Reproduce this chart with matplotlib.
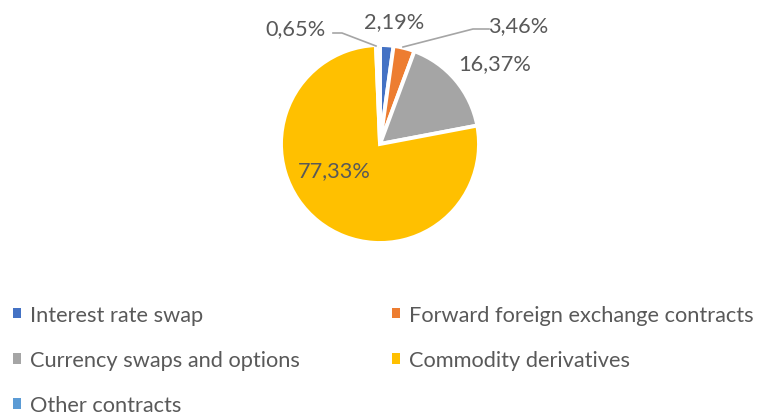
import matplotlib.pyplot as plt
from matplotlib.patches import Patch

# data
labels = ['Interest rate swap', 'Forward foreign exchange contracts',
          'Currency swaps and options', 'Commodity derivatives', 'Other contracts']
shares = [2.19, 3.46, 16.37, 77.33, 0.65]
colors = ['#4472C4', '#ED7D31', '#A5A5A5', '#FFC000', '#5B9BD5']

# label positions in pixel coords (x, y from bottom)
label_pos = [(394, 392), (518, 388), (495, 350), (334, 243), (296, 385)]

plt.rcParams['font.family'] = ['Lato', 'DejaVu Sans']
txt_color = '#595959'
fs = 15.7

fig = plt.figure(figsize=(7.62, 4.14), dpi=100)
ax = fig.add_axes([0, 0, 1, 1])

wedges, _ = ax.pie(shares, colors=colors, startangle=90, counterclock=False,
                   center=(380, 269), radius=99,
                   wedgeprops=dict(edgecolor='white', linewidth=2.8))
ax.set_xlim(0, 762)
ax.set_ylim(0, 414)
ax.set_aspect('equal')
ax.axis('off')

for v, (x, y) in zip(shares, label_pos):
    ax.text(x, y, f'{v:.2f}%'.replace('.', ','), ha='center', va='center',
            fontsize=fs, color=txt_color)

# leader lines
ax.plot([333, 342, 376], [380, 380, 367], color='#A5A5A5', lw=1.2)
ax.plot([489, 473, 403], [384, 384, 366], color='#A5A5A5', lw=1.2)

# legend, row-wise order
order = [0, 2, 4, 1, 3]
handles = [Patch(facecolor=colors[i], edgecolor='none') for i in order]
ax.legend(handles, [labels[i] for i in order], ncol=2, frameon=False,
          loc='upper left', bbox_to_anchor=(13, 108), bbox_transform=ax.transData,
          fontsize=fs, handlelength=0.37, handleheight=0.37, handletextpad=0.42,
          labelspacing=1.15, columnspacing=4.2, borderpad=0, borderaxespad=0,
          labelcolor=txt_color)

fig.savefig('out.png', dpi=100)
